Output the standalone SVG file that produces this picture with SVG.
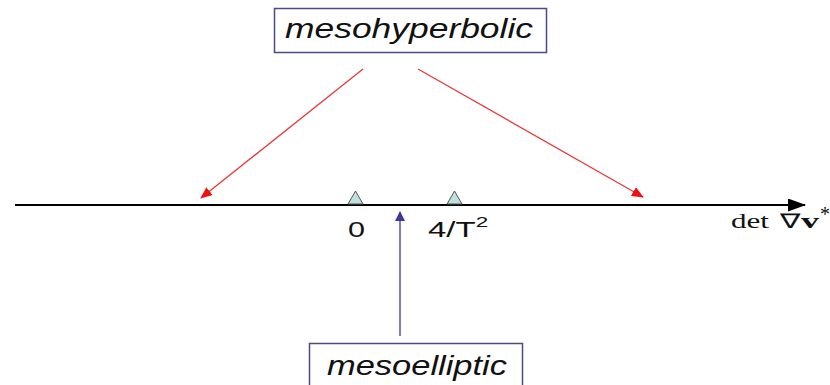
<svg xmlns="http://www.w3.org/2000/svg" width="830" height="385" viewBox="0 0 830 385">
<style>
.box{fill:#fff;stroke:#4a4a8a;stroke-width:1.5}
.lbl{font-family:"Liberation Sans",Arial,sans-serif;font-style:italic;font-size:27px;fill:#111}
.tick{font-family:"Liberation Sans",Arial,sans-serif;font-size:22px;fill:#111}
.math{font-family:"Liberation Serif","Times New Roman",serif;font-size:20px;fill:#111}
.tri{fill:#bfe0dd;stroke:#555;stroke-width:1}
.red{stroke:#e8383a;stroke-width:1.3;fill:none}
.blue{stroke:#3a3a9a;stroke-width:1.3;fill:none}
</style>
<defs>
<marker id="ar" markerWidth="12" markerHeight="10" refX="11" refY="5" orient="auto" markerUnits="userSpaceOnUse"><path d="M0,0 L12,5 L0,10 z" fill="#f01010"/></marker>
<marker id="ab" markerWidth="10" markerHeight="12" refX="9" refY="5" orient="auto" markerUnits="userSpaceOnUse"><path d="M0,0 L10,5 L0,10 z" fill="#3a3a9a"/></marker>
<marker id="ak" markerWidth="18" markerHeight="13" refX="17" refY="6.5" orient="auto" markerUnits="userSpaceOnUse"><path d="M0,0 L18,6.5 L0,13 z" fill="#000"/></marker>
</defs>
<rect width="830" height="385" fill="#fff"/>
<g id="connectors">
<line x1="15" y1="205" x2="805" y2="205" stroke="#000" stroke-width="2" marker-end="url(#ak)"/>
<line class="red" x1="363" y1="69" x2="201" y2="198" marker-end="url(#ar)"/>
<line class="red" x1="418" y1="69" x2="643" y2="197" marker-end="url(#ar)"/>
<line class="blue" x1="400" y1="336" x2="400" y2="212" marker-end="url(#ab)"/>
</g>
<g id="tick0">
<path class="tri" d="M348,204 L355.5,191 L363,204 z"/>
<text class="tick" x="348" y="237" textLength="17" lengthAdjust="spacingAndGlyphs">0</text>
</g>
<g id="tick4T2">
<path class="tri" d="M447,204 L454.5,191 L462,204 z"/>
<text class="tick" transform="translate(428,237) scale(1.5,1)" x="0" y="0">4/T<tspan font-size="15" dy="-10">2</tspan></text>
</g>
<g id="axislabel">
<text class="math" x="731" y="228" textLength="38" lengthAdjust="spacingAndGlyphs">det</text>
<text class="math" x="780" y="228" textLength="20" lengthAdjust="spacingAndGlyphs">∇</text>
<text class="math" x="801" y="228" font-weight="bold" textLength="18" lengthAdjust="spacingAndGlyphs">v</text>
<text class="math" x="820" y="221" font-size="12">*</text>
</g>
<g id="mesohyperbolic">
<rect class="box" x="274.5" y="8.5" width="272" height="44"/>
<text class="lbl" x="285" y="38" textLength="248" lengthAdjust="spacingAndGlyphs">mesohyperbolic</text>
</g>
<g id="mesoelliptic">
<rect class="box" x="309.5" y="343.5" width="213" height="50"/>
<text class="lbl" x="327" y="375" textLength="180" lengthAdjust="spacingAndGlyphs">mesoelliptic</text>
</g>
</svg>
